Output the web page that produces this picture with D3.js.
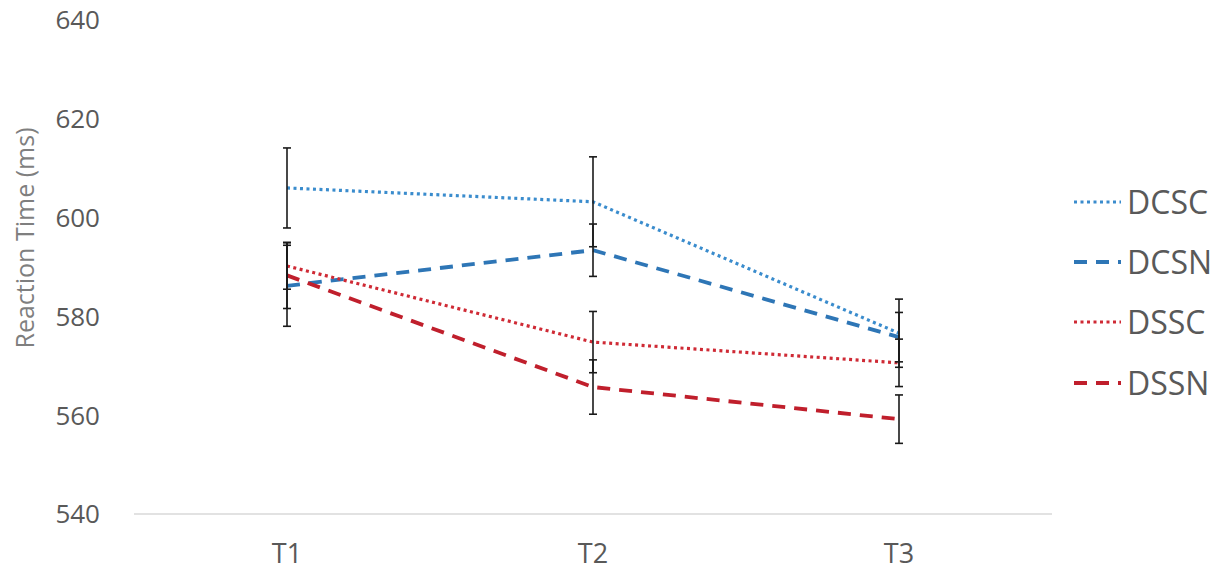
<!DOCTYPE html>
<html><head><meta charset="utf-8">
<script src="https://cdn.jsdelivr.net/npm/d3@7"></script>
<style>body{margin:0;background:#fff}svg{display:block}</style>
</head><body>
<svg id="c" width="1225" height="575"></svg>
<script>
const categories = ["T1","T2","T3"];
const seriesNames = ["DCSC","DCSN","DSSC","DSSN"];
const DCSC = [606.0, 603.2, 576.6];
const DCSN = [586.2, 593.4, 575.8];
const DSSC = [590.2, 574.8, 570.6];
const DSSN = [588.3, 565.7, 559.2];
const errDCSC = [8.1, 9.1, 6.9];
const errDCSN = [8.2, 5.3, 5.0];
const errDSSC = [4.7, 6.2, 4.8];
const errDSSN = [6.7, 5.5, 4.9];
const yTicks = [540, 560, 580, 600, 620, 640];

const values = {DCSC, DCSN, DSSC, DSSN};
const errs = {DCSC: errDCSC, DCSN: errDCSN, DSSC: errDSSC, DSSN: errDSSN};
const styles = {
  DCSC: {color:"#3a8ccd", width:3.2, dash:"3 3.5"},
  DCSN: {color:"#2e76b6", width:3.8, dash:"13 9"},
  DSSC: {color:"#cf2a35", width:3.2, dash:"3 3.5"},
  DSSN: {color:"#c01f2c", width:3.8, dash:"13 9"}
};

const svg = d3.select("#c");
const x = d3.scaleBand().domain(categories).range([134, 1052]).padding(0);
const y = d3.scaleLinear().domain([540, 640]).range([514, 20]);
const cx = c => x(c) + x.bandwidth()/2;

svg.append("line").attr("x1",134).attr("x2",1052).attr("y1",y(540)).attr("y2",y(540))
  .attr("stroke","#d9d9d9").attr("stroke-width",1.5);

svg.append("g").selectAll("text").data(yTicks).join("text")
  .attr("x",100).attr("y",d=>y(d)).attr("dy","0.36em").attr("text-anchor","end")
  .attr("font-family","Open Sans, sans-serif").attr("font-size",26).attr("fill","#595959")
  .text(d=>d);

svg.append("g").selectAll("text").data(categories).join("text")
  .attr("x",d=>cx(d)).attr("y",553).attr("dy","0.36em").attr("text-anchor","middle")
  .attr("font-family","Open Sans, sans-serif").attr("font-size",27).attr("fill","#595959")
  .text(d=>d);

svg.append("text").attr("transform","translate(34,238) rotate(-90)")
  .attr("text-anchor","middle").attr("font-family","Open Sans, sans-serif")
  .attr("font-size",25).attr("fill","#7f7f7f").text("Reaction Time (ms)");

const line = d3.line().x((d,i)=>cx(categories[i])).y(d=>y(d));

seriesNames.forEach(name=>{
  const s = styles[name];
  svg.append("path").datum(values[name]).attr("d",line)
    .attr("fill","none").attr("stroke",s.color).attr("stroke-width",s.width)
    .attr("stroke-dasharray",s.dash);
});

seriesNames.forEach(name=>{
  const g = svg.append("g").attr("stroke","#1a1a1a").attr("stroke-width",1.6);
  values[name].forEach((v,i)=>{
    const xc = cx(categories[i]);
    const e = errs[name][i];
    g.append("line").attr("x1",xc).attr("x2",xc).attr("y1",y(v+e)).attr("y2",y(v-e));
    [v+e, v-e].forEach(t=>{
      g.append("line").attr("x1",xc-4).attr("x2",xc+4).attr("y1",y(t)).attr("y2",y(t));
    });
  });
});

const legendY = [202, 262, 322, 383];
seriesNames.forEach((name,i)=>{
  const s = styles[name];
  svg.append("line").attr("x1",1074).attr("x2",1121).attr("y1",legendY[i]).attr("y2",legendY[i])
    .attr("stroke",s.color).attr("stroke-width",s.width).attr("stroke-dasharray",s.dash);
  svg.append("text").attr("x",1127).attr("y",legendY[i]).attr("dy","0.36em")
    .attr("font-family","Open Sans, sans-serif").attr("font-size",32).attr("fill","#595959")
    .text(name);
});
</script>
</body></html>
